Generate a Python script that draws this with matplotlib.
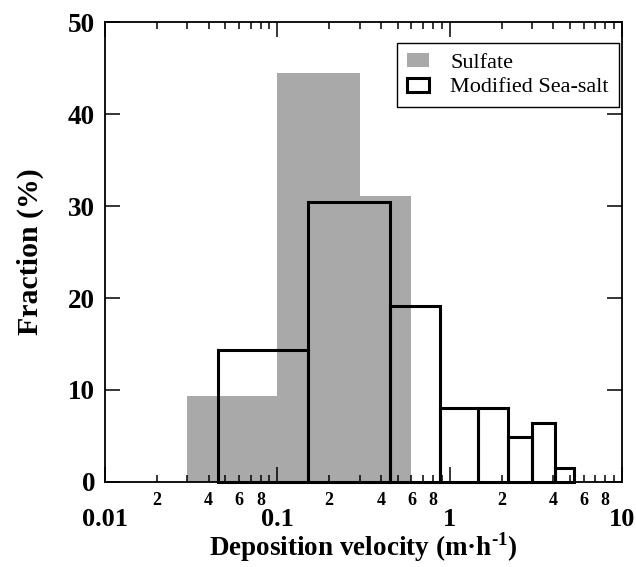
import numpy as np
import matplotlib
matplotlib.use('Agg')
import matplotlib.pyplot as plt
from matplotlib.patches import Patch
from matplotlib.ticker import LogLocator, FuncFormatter

# ==================== data ====================
# sulfate: bin edges (m/h) and fraction (%)
SULFATE_EDGES = [0.03, 0.1, 0.3, 0.6]
SULFATE_FRAC = [9.4, 44.5, 31.1]

# modified sea-salt: bin edges (m/h) and fraction (%)
SEASALT_EDGES = [0.045, 0.15, 0.45, 0.88, 1.46, 2.18, 3.0, 4.1, 5.3]
SEASALT_FRAC = [14.3, 30.4, 19.1, 8.0, 8.0, 4.9, 6.4, 1.5]

X_LIM = (0.01, 10)
Y_LIM = (0, 50)
Y_TICKS = [0, 10, 20, 30, 40, 50]
# =====================================================================

plt.rcParams['font.family'] = ['Liberation Serif', 'DejaVu Serif']
plt.rcParams['font.weight'] = 'bold'
plt.rcParams['mathtext.fontset'] = 'custom'
plt.rcParams['mathtext.rm'] = 'Liberation Serif:bold'
plt.rcParams['mathtext.bf'] = 'Liberation Serif:bold'


def minor_label(v, pos):
    # only 2, 4, 6, 8 inside each decade get a label
    m = v / 10 ** np.floor(np.log10(v) + 1e-9)
    m = int(round(m))
    return str(m) if m in (2, 4, 6, 8) else ''


def major_label(v, pos):
    return '%g' % v


fig = plt.figure(figsize=(6.36, 5.67), dpi=100)
ax = fig.add_axes([0.165, 0.150, 0.813, 0.811])

# gray sulfate histogram
s_left = np.array(SULFATE_EDGES[:-1])
s_width = np.diff(SULFATE_EDGES)
ax.bar(s_left, SULFATE_FRAC, width=s_width, align='edge',
       color='#a9a9a9', edgecolor='none', zorder=1)

# open sea-salt histogram on top
m_left = np.array(SEASALT_EDGES[:-1])
m_width = np.diff(SEASALT_EDGES)
ax.bar(m_left, SEASALT_FRAC, width=m_width, align='edge',
       fill=False, edgecolor='black', linewidth=2.2, zorder=2, clip_on=False)

ax.set_xscale('log')
ax.set_xlim(*X_LIM)
ax.set_ylim(*Y_LIM)
ax.set_yticks(Y_TICKS)

ax.xaxis.set_major_locator(LogLocator(base=10, numticks=10))
ax.xaxis.set_minor_locator(LogLocator(base=10, subs=np.arange(2, 10), numticks=20))
ax.xaxis.set_major_formatter(FuncFormatter(major_label))
ax.xaxis.set_minor_formatter(FuncFormatter(minor_label))

ax.tick_params(which='both', direction='in', top=True, right=True, width=1.1)
ax.tick_params(which='major', length=11)
ax.tick_params(which='minor', length=5)
ax.tick_params(axis='y', labelsize=19.5, pad=7)
ax.tick_params(axis='x', which='major', labelsize=19, pad=19)
ax.tick_params(axis='x', which='minor', labelsize=13, pad=7)

for sp in ax.spines.values():
    sp.set_linewidth(1.3)

ax.set_xlabel('Deposition velocity (m\u00b7h$^{\\text{-1}}$)', fontsize=19.5,
              fontweight='bold', labelpad=-1)
ax.set_ylabel('Fraction (%)', fontsize=21.5, fontweight='bold', labelpad=17)

handles = [
    Patch(facecolor='#a9a9a9', edgecolor='none', label='Sulfate'),
    Patch(facecolor='white', edgecolor='black', linewidth=2.2, label='Modified Sea-salt'),
]
leg = ax.legend(handles=handles, loc='upper right', bbox_to_anchor=(0.994, 0.954),
                borderaxespad=0, fancybox=False, framealpha=1,
                prop={'family': 'Liberation Serif', 'weight': 'normal', 'size': 16},
                handlelength=1.0, handleheight=0.6, handletextpad=0.95,
                borderpad=0.45, labelspacing=0.2)
leg.get_frame().set_edgecolor('black')
leg.get_frame().set_linewidth(1.0)

fig.savefig('out.png', dpi=100)
